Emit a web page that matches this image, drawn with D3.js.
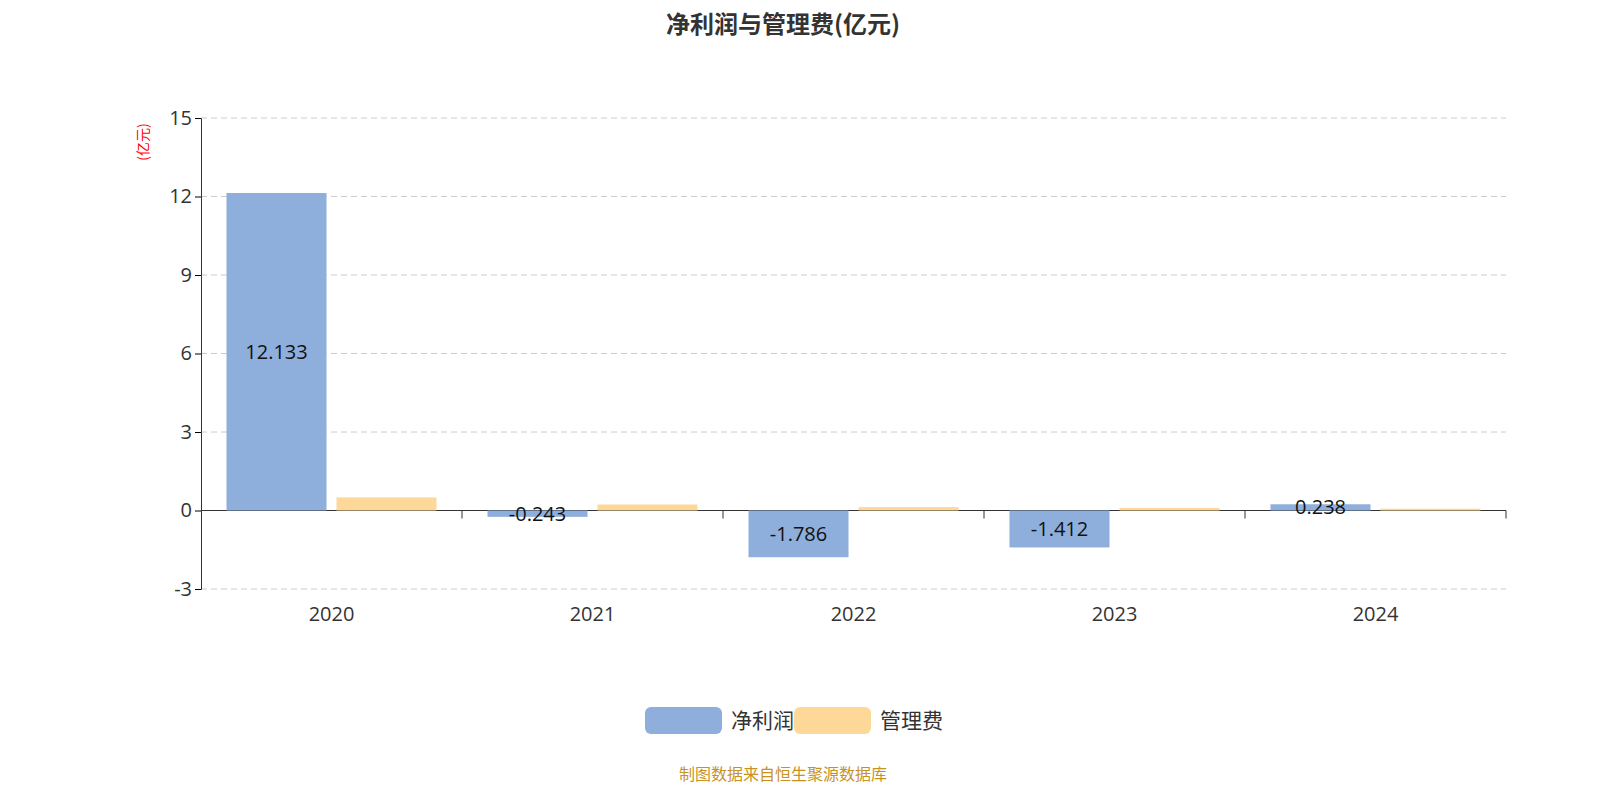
<!DOCTYPE html>
<meta charset="utf-8">
<body style="margin:0;background:#fff;overflow:hidden">
<svg width="1600" height="800" style="display:block"></svg>
<script src="https://d3js.org/d3.v7.min.js"></script>
<script>
var years = ["2020", "2021", "2022", "2023", "2024"];
var netProfit = [12.133, -0.243, -1.786, -1.412, 0.238];
var mgmtFee = [0.50, 0.23, 0.13, 0.10, 0.07];
var yTicks = [-3, 0, 3, 6, 9, 12, 15];
var font = "'Open Sans','Noto Sans CJK SC',sans-serif";

var svg = d3.select("svg").style("font-family", font);
var x = d3.scaleBand().domain(years).range([201, 1506]);
var y = d3.scaleLinear().domain([-3, 15]).range([589, 118]);

svg.append("text").attr("x", 783).attr("y", 33).attr("text-anchor", "middle")
  .attr("font-size", 24).attr("font-weight", "bold").attr("fill", "#333")
  .attr("font-family", "'Noto Sans CJK SC',sans-serif").text("净利润与管理费(亿元)");

svg.selectAll(".grid").data(yTicks.filter(d => d != 0)).enter().append("line")
  .attr("x1", 201).attr("x2", 1506).attr("y1", y).attr("y2", y)
  .attr("stroke", "#ccc").attr("stroke-dasharray", "6,4");

var ya = svg.append("g").attr("transform", "translate(201,0)")
  .call(d3.axisLeft(y).tickValues(yTicks).tickSize(6).tickFormat(d => String(d)));
ya.selectAll("text").attr("font-size", 20).attr("fill", "#333").attr("font-family", font);
ya.select(".domain").attr("stroke", "#333");

svg.append("line").attr("x1", 201).attr("x2", 1506).attr("y1", y(0)).attr("y2", y(0)).attr("stroke", "#333");
svg.selectAll(".xt").data(years).enter().append("line")
  .attr("x1", d => x(d) + x.bandwidth()).attr("x2", d => x(d) + x.bandwidth())
  .attr("y1", y(0)).attr("y2", y(0) + 8).attr("stroke", "#333");
svg.selectAll(".xl").data(years).enter().append("text")
  .attr("x", d => x(d) + x.bandwidth() / 2).attr("y", 621).attr("text-anchor", "middle")
  .attr("font-size", 20).attr("fill", "#333").text(d => d);

svg.append("text").attr("transform", "translate(148,142) rotate(-90)").attr("text-anchor", "middle")
  .attr("font-size", 14).attr("fill", "red").attr("font-family", "'Noto Sans CJK SC',sans-serif").text("(亿元)");

var bw = 100;
svg.selectAll(".np").data(netProfit).enter().append("rect")
  .attr("x", (d, i) => x(years[i]) + x.bandwidth() / 2 - 5 - bw).attr("width", bw)
  .attr("y", d => y(Math.max(0, d))).attr("height", d => Math.abs(y(d) - y(0)))
  .attr("fill", "#8eaedb");
svg.selectAll(".mf").data(mgmtFee).enter().append("rect")
  .attr("x", (d, i) => x(years[i]) + x.bandwidth() / 2 + 5).attr("width", bw)
  .attr("y", d => y(Math.max(0, d))).attr("height", d => Math.abs(y(d) - y(0)))
  .attr("fill", "#fed898");
svg.selectAll(".lb").data(netProfit).enter().append("text")
  .attr("x", (d, i) => x(years[i]) + x.bandwidth() / 2 - 5 - bw / 2)
  .attr("y", d => (y(d) + y(0)) / 2).attr("dy", "0.35em").attr("text-anchor", "middle")
  .attr("font-size", 20).attr("fill", "#111").text(d => d);

var lg = svg.append("g").attr("font-family", "'Noto Sans CJK SC',sans-serif");
lg.append("rect").attr("x", 645).attr("y", 707).attr("width", 77).attr("height", 27).attr("rx", 6).attr("fill", "#8eaedb");
lg.append("text").attr("x", 731).attr("y", 728).attr("font-size", 21).attr("fill", "#333").text("净利润");
lg.append("rect").attr("x", 794).attr("y", 707).attr("width", 77).attr("height", 27).attr("rx", 6).attr("fill", "#fed898");
lg.append("text").attr("x", 880).attr("y", 728).attr("font-size", 21).attr("fill", "#333").text("管理费");

svg.append("text").attr("x", 783).attr("y", 780).attr("text-anchor", "middle")
  .attr("font-size", 16).attr("fill", "#c8921e").attr("font-family", "'Noto Sans CJK SC',sans-serif")
  .text("制图数据来自恒生聚源数据库");
</script>
</body>
